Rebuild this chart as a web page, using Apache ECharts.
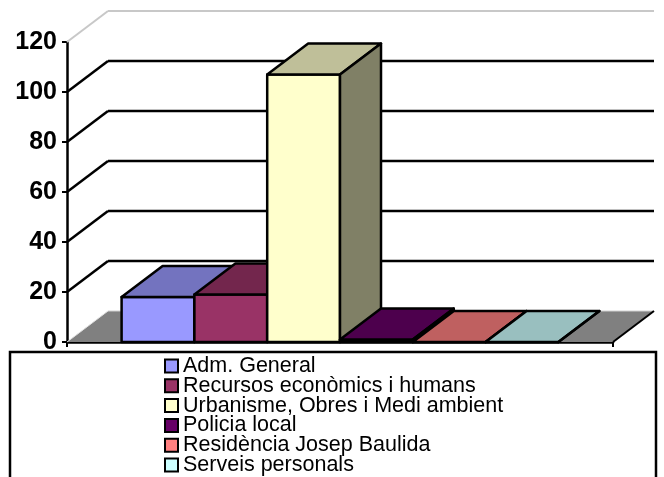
<!DOCTYPE html>
<html>
<head>
<meta charset="utf-8">
<script src="https://cdn.jsdelivr.net/npm/echarts@6/dist/echarts.min.js"></script>
<style>
html,body{margin:0;padding:0;background:#fff}
#chart{width:664px;height:477px}
</style>
</head>
<body>
<div id="chart"></div>
<script>
// dades del gràfic
var categories = [""]
var seriesNames = ["Adm. General", "Recursos econòmics i humans", "Urbanisme, Obres i Medi ambient", "Policia local", "Residència Josep Baulida", "Serveis personals"]
var seriesValues = [18, 19, 107, 1, 0, 0]
var yTicks = [0, 20, 40, 60, 80, 100, 120]

// colors: cara frontal, cara superior, lateral
var frontColors = ["#9999FF", "#993366", "#FFFFCC", "#660066", "#FF8080", "#CCFFFF"]
var topColors = ["#7373BF", "#73264D", "#BFBF99", "#4D004D", "#BF6060", "#99BFBF"]
var sideColors = ["#4D4D80", "#4D1933", "#808066", "#330033", "#804040", "#668080"]

var depthX = 41, depthY = 31
var gapWidth = 1.5
var font = '"Liberation Sans", Arial, sans-serif'

// posició d'una barra dins la categoria
function barBox(api, i) {
    let base = api.coord([0, 0])
    let band = api.size([1, 0])[0]
    let bw = band / (seriesNames.length + gapWidth)
    let x0 = base[0] - band / 2 + bw * gapWidth / 2 + i * bw
    return {x0: x0, x1: x0 + bw, y0: base[1], bw: bw}
}

function wallRender(params, api) {
    let v = api.value(1)
    let y = api.coord([0, v])[1]
    let cx = api.coord([0, 0])[0]
    let band = api.size([1, 0])[0]
    let left = cx - band / 2, right = cx + band / 2
    if (v === 0) {
        // terra
        let y0 = y
        return {
            type: 'group',
            children: [
                {type: 'polygon', shape: {points: [[left, y0], [right, y0], [right + depthX, y0 - depthY], [left + depthX, y0 - depthY]]},
                    style: {fill: '#808080', stroke: null}},
                {type: 'line', shape: {x1: left + depthX, y1: y0 - depthY, x2: right + depthX, y2: y0 - depthY},
                    style: {stroke: '#D0D0D0', lineWidth: 1}},
                {type: 'line', shape: {x1: left, y1: y0, x2: left + depthX, y2: y0 - depthY},
                    style: {stroke: '#E0E0E0', lineWidth: 1}},
                {type: 'line', shape: {x1: right, y1: y0, x2: right + depthX, y2: y0 - depthY},
                    style: {stroke: '#000', lineWidth: 2}}
            ]
        }
    }
    let col = v === 120 ? '#C8C8C8' : '#000'
    let w = v === 120 ? 2 : 2.5
    return {
        type: 'group',
        children: [
            {type: 'line', shape: {x1: left, y1: y, x2: left + depthX, y2: y - depthY}, style: {stroke: col, lineWidth: w}},
            {type: 'line', shape: {x1: left + depthX, y1: y - depthY, x2: right + depthX, y2: y - depthY}, style: {stroke: col, lineWidth: w}}
        ]
    }
}

function barRender(i) {
    return function (params, api) {
        let b = barBox(api, i)
        let yt = api.coord([0, api.value(1)])[1]
        let st = {stroke: '#000', lineWidth: 2.5, lineJoin: 'round'}
        return {
            type: 'group',
            children: [
                {type: 'polygon', shape: {points: [[b.x0, yt], [b.x1, yt], [b.x1, b.y0], [b.x0, b.y0]]},
                    style: Object.assign({fill: frontColors[i]}, st)},
                {type: 'polygon', shape: {points: [[b.x0, yt], [b.x1, yt], [b.x1 + depthX, yt - depthY], [b.x0 + depthX, yt - depthY]]},
                    style: Object.assign({fill: topColors[i]}, st)},
                {type: 'polygon', shape: {points: [[b.x1, yt], [b.x1 + depthX, yt - depthY], [b.x1 + depthX, b.y0 - depthY], [b.x1, b.y0]]},
                    style: Object.assign({fill: sideColors[i]}, st)}
            ]
        }
    }
}

let chart = echarts.init(document.getElementById('chart'))

let series = [{
    type: 'custom',
    name: 'walls',
    silent: true,
    z: 1,
    renderItem: wallRender,
    data: yTicks.map(v => [0, v])
}]
for (let i = 0; i < seriesNames.length; i++) {
    series.push({
        type: 'custom',
        name: seriesNames[i],
        z: 3 + i,
        itemStyle: {color: frontColors[i]},
        renderItem: barRender(i),
        data: [[0, seriesValues[i]]]
    })
}

chart.setOption({
    animation: false,
    backgroundColor: '#fff',
    grid: {left: 67, top: 42, width: 546, height: 300, outerBoundsMode: 'none'},
    xAxis: {
        type: 'category',
        data: categories,
        axisLine: {lineStyle: {color: '#000', width: 2.5}},
        axisTick: {show: true, length: 5, lineStyle: {color: '#000', width: 2}},
        axisLabel: {show: false},
        splitLine: {show: false}
    },
    yAxis: {
        type: 'value',
        min: 0, max: 120, interval: 20,
        axisLine: {show: true, lineStyle: {color: '#000', width: 2.5}},
        axisTick: {show: true, length: 5, lineStyle: {color: '#000', width: 2}},
        axisLabel: {color: '#000', fontSize: 25, fontWeight: 'bold', fontFamily: font, margin: 10},
        splitLine: {show: false}
    },
    graphic: [{
        type: 'rect',
        z: 0,
        shape: {x: 10, y: 352, width: 646, height: 140},
        style: {fill: '#fff', stroke: '#000', lineWidth: 2.5}
    }],
    legend: {
        orient: 'vertical',
        left: 164, top: 355,
        height: 200,
        padding: 0,
        itemWidth: 13, itemHeight: 13, itemGap: -2.2,
        icon: 'rect',
        selectedMode: false,
        itemStyle: {borderColor: '#000', borderWidth: 2},
        textStyle: {color: '#000', fontSize: 21.5, fontFamily: font},
        data: seriesNames
    },
    series: series
})
</script>
</body>
</html>
